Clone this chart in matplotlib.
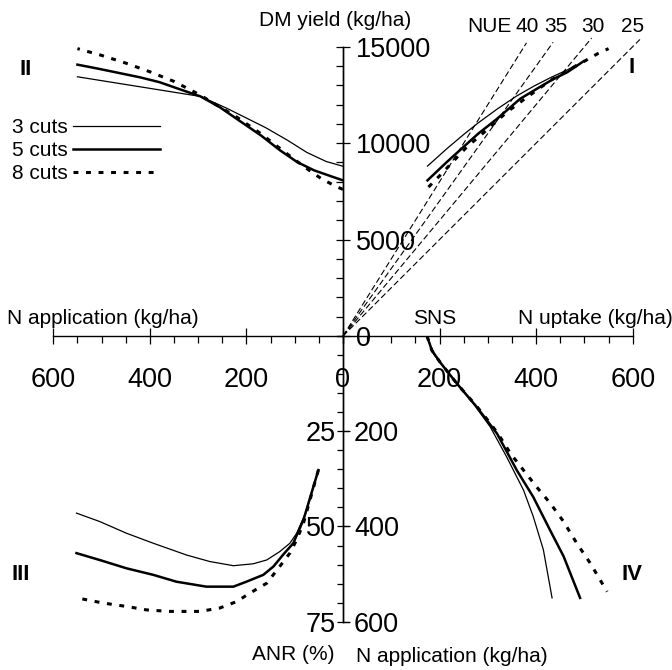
import matplotlib
matplotlib.use("Agg")
import matplotlib.pyplot as plt
from matplotlib.ticker import MultipleLocator
from matplotlib.transforms import blended_transform_factory

plt.rcParams["font.family"] = ["Liberation Sans", "DejaVu Sans"]

# ---- data ----
# quadrant II : DM yield (kg/ha) against N application (kg/ha)
n_app_3 = [0, 35, 75, 115, 160, 200, 240, 295, 340, 420, 550]
dm_3 = [8800, 9050, 9520, 10150, 10800, 11300, 11800, 12420, 12600, 12920, 13440]
n_app_5 = [0, 20, 60, 95, 130, 170, 215, 255, 295, 340, 380, 420, 505, 550]
dm_5 = [8070, 8240, 8590, 9020, 9620, 10400, 11170, 11860, 12420, 12810, 13160, 13410, 13850, 14070]
n_app_8 = [0, 15, 45, 70, 95, 125, 145, 170, 195, 220, 250, 300, 350, 400, 450, 500, 550]
dm_8 = [7600, 7760, 8160, 8590, 9050, 9620, 10000, 10490, 10920, 11350, 11800, 12550, 13200, 13700, 14150, 14550, 14900]

# quadrant I : DM yield against N uptake (kg/ha)
up_3 = [175, 215, 250, 280, 320, 360, 395, 430, 465, 482]
dmu_3 = [8810, 9710, 10450, 11050, 11780, 12450, 12950, 13400, 13800, 14050]
up_5 = [175, 215, 249, 280, 319, 367, 401, 436, 464, 498]
dmu_5 = [8070, 9020, 9790, 10490, 11260, 12300, 12810, 13330, 13670, 14240]
up_8 = [177, 201, 256, 301, 339, 381, 429, 529, 550]
dmu_8 = [7720, 8330, 9790, 10750, 11600, 12380, 13240, 14660, 14900]

# NUE reference lines (kg DM / kg N) and where they stop
nue_values = [40, 35, 30, 25]
nue_end_uptake = [380, 435, 515, 615]
nue_label_uptake = [381, 441, 517, 600]

# quadrant III : ANR (%) against N application
n_anr_3 = [51, 75, 96, 110, 131, 158, 186, 227, 276, 324, 393, 448, 504, 552]
anr_3 = [35.2, 45.7, 51.8, 54.4, 56.6, 58.8, 59.8, 60.3, 59.2, 57.5, 54.4, 51.8, 48.7, 46.5]
n_anr_5 = [51, 82, 103, 124, 144, 165, 200, 227, 283, 345, 393, 448, 504, 552]
anr_5 = [35.2, 48.3, 54.4, 57.4, 60.5, 62.7, 64.5, 65.8, 65.8, 64.5, 62.7, 61.0, 58.8, 57.0]
n_anr_8 = [51, 82, 96, 110, 131, 158, 193, 220, 255, 296, 359, 407, 448, 497, 549]
anr_8 = [35.2, 49.2, 53.5, 57.0, 60.5, 64.9, 67.5, 69.7, 71.4, 72.3, 72.3, 71.9, 71.0, 70.1, 68.8]

# quadrant IV : N application against N uptake
up_iv_3 = [174, 187, 208, 236, 270, 305, 339, 374, 394, 415, 433]
app_iv_3 = [0, 37, 65, 100, 142, 191, 254, 324, 379, 449, 550]
up_iv_5 = [174, 184, 201, 236, 277, 319, 360, 394, 429, 457, 491]
app_iv_5 = [0, 30, 55, 100, 149, 205, 282, 338, 408, 463, 550]
up_iv_8 = [174, 184, 201, 236, 278, 300, 321, 347, 374, 401, 429, 457, 484, 512, 547]
app_iv_8 = [0, 30, 55, 100, 149, 177, 205, 247, 282, 317, 351, 390, 435, 477, 537]

# ---- layout (pixels of the 672x670 picture) ----
W, H = 672, 670
X0, XL, XR = 343, 53.3, 632.7
Y0, YT, YB = 336, 46.7, 621.7
TICK_FS = 19.5
TXT_FS = 15

thin = dict(color="black", lw=0.9)
thick = dict(color="black", lw=1.8)
dots = dict(color="black", lw=2.2, ls=(0, (1.6, 2.5)))
nue_style = dict(color="black", lw=0.8, ls=(0, (5.4, 2.7)))


def box(x1, y1, x2, y2):
    return [x1 / W, 1 - y2 / H, (x2 - x1) / W, (y2 - y1) / H]


def fx(x):
    return x / W


def fy(y):
    return 1 - y / H


fig = plt.figure(figsize=(W / 100, H / 100), dpi=100)

ax1 = fig.add_axes(box(X0, YT, XR, Y0))
ax2 = fig.add_axes(box(XL, YT, X0, Y0))
ax3 = fig.add_axes(box(XL, Y0, X0, YB))
ax4 = fig.add_axes(box(X0, Y0, XR, YB))

for ax in (ax1, ax2, ax3, ax4):
    ax.patch.set_visible(False)
    for sp in ax.spines.values():
        sp.set_visible(False)
        sp.set_linewidth(1.0)
    ax.tick_params(which="both", bottom=False, left=False, top=False, right=False,
                   labelbottom=False, labelleft=False)

ax1.set_xlim(0, 600)
ax1.set_ylim(0, 15000)
ax2.set_xlim(600, 0)
ax2.set_ylim(0, 15000)
ax3.set_xlim(600, 0)
ax3.set_ylim(75, 0)
ax4.set_xlim(0, 600)
ax4.set_ylim(600, 0)

# central axes lines
ax1.spines["left"].set_visible(True)
ax1.spines["bottom"].set_visible(True)
ax2.spines["right"].set_visible(True)
ax2.spines["bottom"].set_visible(True)

# horizontal axis ticks
ax1.set_xticks([0, 200, 400, 600])
ax2.set_xticks([200, 400, 600])
for ax in (ax1, ax2):
    ax.xaxis.set_minor_locator(MultipleLocator(50))
    ax.tick_params(axis="x", which="major", bottom=True, labelbottom=True,
                   direction="inout", length=12, width=0.9, pad=16.5, labelsize=TICK_FS)
    ax.tick_params(axis="x", which="minor", bottom=True, direction="out",
                   length=5, width=0.9)

# upper vertical axis (DM yield), labels right of the line
ax2.set_yticks([0, 5000, 10000, 15000])
ax2.yaxis.set_minor_locator(MultipleLocator(1000))
ax2.tick_params(axis="y", which="both", left=False, right=True,
                labelleft=False, labelright=True)
ax2.tick_params(axis="y", which="major", direction="inout", length=10,
                width=0.9, pad=4.5, labelsize=TICK_FS)
ax2.tick_params(axis="y", which="minor", direction="in", length=5, width=0.9)

# lower vertical axis: ANR on the left, N application on the right
sec3 = ax3.secondary_yaxis(1.0)
sec3.set_alignment("left")
sec3.set_yticks([25, 50, 75])
sec3.yaxis.set_minor_locator(MultipleLocator(5))
sec3.tick_params(axis="y", which="major", direction="inout", length=8,
                 width=0.9, pad=1, labelsize=TICK_FS)
sec3.tick_params(axis="y", which="minor", direction="out", length=4, width=0.9)
sec3.spines["left"].set_linewidth(1.0)

sec4 = ax4.secondary_yaxis(0.0)
sec4.set_alignment("right")
sec4.set_yticks([200, 400, 600])
sec4.tick_params(axis="y", which="major", length=5, direction="out",
                 width=0.9, pad=3, labelsize=TICK_FS)
sec4.spines["right"].set_linewidth(1.0)

# quadrant II
ax2.plot(n_app_3, dm_3, label="3 cuts", **thin)
ax2.plot(n_app_5, dm_5, label="5 cuts", **thick)
ax2.plot(n_app_8, dm_8, label="8 cuts", **dots)
ax2.legend(loc="upper left", bbox_to_anchor=(fx(12), fy(118)),
           bbox_transform=fig.transFigure, frameon=False, markerfirst=False,
           fontsize=TXT_FS, handlelength=4.2, handletextpad=0.25,
           labelspacing=0.2, borderpad=0, borderaxespad=0)

# quadrant I
for nue, end in zip(nue_values, nue_end_uptake):
    ax1.plot([0, end], [0, nue * end], clip_on=False, **nue_style)
ax1.plot(up_3, dmu_3, **thin)
ax1.plot(up_5, dmu_5, **thick)
ax1.plot(up_8, dmu_8, clip_on=False, **dots)

# quadrant III
ax3.plot(n_anr_3, anr_3, **thin)
ax3.plot(n_anr_5, anr_5, **thick)
ax3.plot(n_anr_8, anr_8, **dots)

# quadrant IV
ax4.plot(up_iv_3, app_iv_3, **thin)
ax4.plot(up_iv_5, app_iv_5, **thick)
ax4.plot(up_iv_8, app_iv_8, **dots)

# texts
fig.text(fx(335), fy(26.5), "DM yield (kg/ha)", ha="center", va="baseline", fontsize=TXT_FS)
fig.text(fx(489), fy(31.5), "NUE", ha="center", va="baseline", fontsize=TXT_FS)
nue_trans = blended_transform_factory(ax1.transData, fig.transFigure)
for nue, xu in zip(nue_values, nue_label_uptake):
    ax1.text(xu, fy(31.5), str(nue), ha="center", va="baseline", fontsize=TXT_FS,
             transform=nue_trans, clip_on=False)

fig.text(fx(7), fy(324), "N application (kg/ha)", ha="left", va="baseline", fontsize=TXT_FS)
fig.text(fx(435), fy(324), "SNS", ha="center", va="baseline", fontsize=TXT_FS)
fig.text(fx(518), fy(324), "N uptake (kg/ha)", ha="left", va="baseline", fontsize=TXT_FS)
fig.text(fx(335), fy(660), "ANR (%)", ha="right", va="baseline", fontsize=TXT_FS)
fig.text(fx(356), fy(662), "N application (kg/ha)", ha="left", va="baseline", fontsize=TXT_FS)

for s, x, y in [("II", 26, 75), ("I", 632, 73), ("III", 21, 580), ("IV", 632, 580)]:
    fig.text(fx(x), fy(y), s, ha="center", va="baseline", fontsize=16, fontweight="bold")

fig.savefig("out.png", dpi=100)
